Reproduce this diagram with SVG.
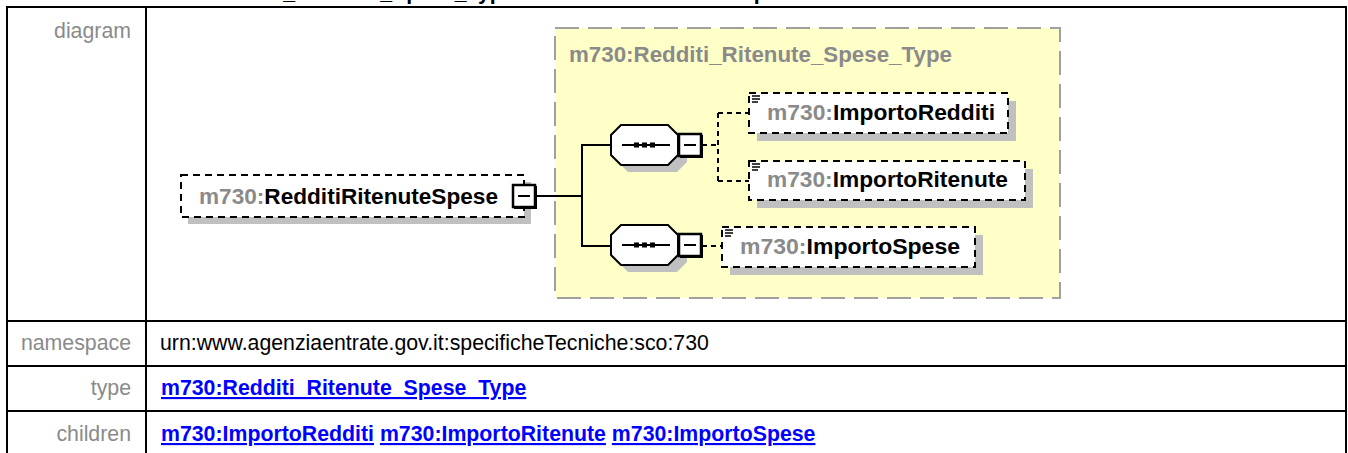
<svg xmlns="http://www.w3.org/2000/svg" width="1348" height="453" viewBox="0 0 1348 453">
<defs>
<style>
.lbl{font-family:"Liberation Sans",Arial,sans-serif;font-size:21.3px;fill:#8a8a8a;text-anchor:end}
.val{font-family:"Liberation Sans",Arial,sans-serif;font-size:21.3px;fill:#000}
.lnk{font-family:"Liberation Sans",Arial,sans-serif;font-size:21.3px;font-weight:bold;fill:#0000ff;text-decoration:underline}
.tbl{stroke:#000;stroke-width:2;fill:none}
.nm{font-family:"Liberation Sans",Arial,sans-serif;font-size:22.5px;font-weight:bold;fill:#000}
.pf{fill:#8a8a8a}
.node{fill:#fff;stroke:#000;stroke-width:2;stroke-dasharray:7 5}
.shadow{fill:#c0c0c0}
.oct{fill:#fff;stroke:#000;stroke-width:2}
.mbox{fill:#fff;stroke:#000;stroke-width:2.5}
.solid{fill:none;stroke:#000;stroke-width:2}
.dash{fill:none;stroke:#000;stroke-width:2;stroke-dasharray:5 4}
.icon{stroke:#000;stroke-width:1.5}
</style>
</defs>
<rect width="1348" height="453" fill="#fff"/>
<text x="63" y="-1" font-family="Liberation Sans, Arial, sans-serif" font-size="21.3" font-weight="bold" fill="#000">element m730:Redditi_Ritenute_Spese_Type/m730:RedditiRitenuteSpese</text>
<g id="table">
<path class="tbl" d="M7,460 V7 H1346 V460 M146,7 V460 M7,321 H1346 M7,366 H1346 M7,411 H1346"/>
<text class="lbl" x="131" y="38">diagram</text>
<text class="lbl" x="131" y="350">namespace</text>
<text class="lbl" x="131" y="395">type</text>
<text class="lbl" x="131" y="441">children</text>
<text class="val" x="160" y="350">urn:www.agenziaentrate.gov.it:specificheTecniche:sco:730</text>
<text class="lnk" x="161" y="395">m730:Redditi_Ritenute_Spese_Type</text>
<text x="161" y="441" style="font-family:'Liberation Sans',Arial,sans-serif;font-size:21.3px;font-weight:bold;fill:#0000ff"><tspan text-decoration="underline">m730:ImportoRedditi</tspan> <tspan text-decoration="underline">m730:ImportoRitenute</tspan> <tspan text-decoration="underline">m730:ImportoSpese</tspan></text>
</g>
<g id="type-box">
<rect x="555" y="28" width="505" height="270" fill="#ffffc8" stroke="#a0a0a0" stroke-width="2" stroke-dasharray="24 9"/>
<text class="nm" x="569" y="62" style="fill:#8a8a8a" textLength="383" lengthAdjust="spacingAndGlyphs">m730:Redditi_Ritenute_Spese_Type</text>
</g>
<g id="connectors">
<path class="solid" d="M535,196 H582 M582,145 V246 M581,145 H611 M581,246 H611"/>
<path class="dash" d="M702,145 H718 M718,113 V181 M718,113 H749 M718,181 H749"/>
<path class="dash" d="M702,246 H722"/>
</g>
<g id="node-RedditiRitenuteSpese">
<rect class="shadow" x="188" y="182" width="343" height="42"/>
<rect class="node" x="181" y="175" width="343" height="42"/>
<text class="nm" x="199" y="204" textLength="299" lengthAdjust="spacingAndGlyphs"><tspan class="pf">m730:</tspan>RedditiRitenuteSpese</text>
<rect class="mbox" x="513" y="185" width="22" height="22"/>
<path class="solid" d="M514,208 H536 V186"/>
<path class="solid" d="M518,196 H530"/>
</g>
<g id="seq-1">
<polygon class="shadow" points="628,132 677,132 687,142 687,162 677,172 628,172 618,162 618,142"/>
<polygon class="oct" points="621,125 668,125 678,135 678,155 668,165 621,165 611,155 611,135"/>
<path class="solid" d="M622,145 H670"/>
<rect x="634" y="142.5" width="5" height="5"/>
<rect x="642" y="142.5" width="5" height="5"/>
<rect x="650" y="142.5" width="5" height="5"/>
<rect class="mbox" x="679" y="134" width="22" height="22"/>
<path class="solid" d="M680,157 H702 V135"/>
<path class="solid" d="M684,145 H696"/>
</g>
<g id="seq-2">
<polygon class="shadow" points="628,232 677,232 687,242 687,262 677,272 628,272 618,262 618,242"/>
<polygon class="oct" points="621,225 668,225 678,235 678,255 668,265 621,265 611,255 611,235"/>
<path class="solid" d="M622,245 H670"/>
<rect x="634" y="242.5" width="5" height="5"/>
<rect x="642" y="242.5" width="5" height="5"/>
<rect x="650" y="242.5" width="5" height="5"/>
<rect class="mbox" x="679" y="234" width="22" height="22"/>
<path class="solid" d="M680,257 H702 V235"/>
<path class="solid" d="M684,245 H696"/>
</g>
<g id="node-ImportoRedditi">
<rect class="shadow" x="757" y="101" width="259" height="40"/>
<rect class="node" x="749" y="93" width="259" height="40"/>
<path class="icon" d="M752,96 H760 M752,99 H760 M752,102 H758"/>
<text class="nm" x="767" y="120" textLength="228" lengthAdjust="spacingAndGlyphs"><tspan class="pf">m730:</tspan>ImportoRedditi</text>
</g>
<g id="node-ImportoRitenute">
<rect class="shadow" x="757" y="169" width="276" height="39"/>
<rect class="node" x="749" y="161" width="276" height="39"/>
<path class="icon" d="M752,164 H760 M752,167 H760 M752,170 H758"/>
<text class="nm" x="767" y="187" textLength="241" lengthAdjust="spacingAndGlyphs"><tspan class="pf">m730:</tspan>ImportoRitenute</text>
</g>
<g id="node-ImportoSpese">
<rect class="shadow" x="730" y="235" width="253" height="40"/>
<rect class="node" x="722" y="227" width="253" height="40"/>
<path class="icon" d="M725,230 H733 M725,233 H733 M725,236 H731"/>
<text class="nm" x="740" y="254" textLength="220" lengthAdjust="spacingAndGlyphs"><tspan class="pf">m730:</tspan>ImportoSpese</text>
</g>
</svg>
